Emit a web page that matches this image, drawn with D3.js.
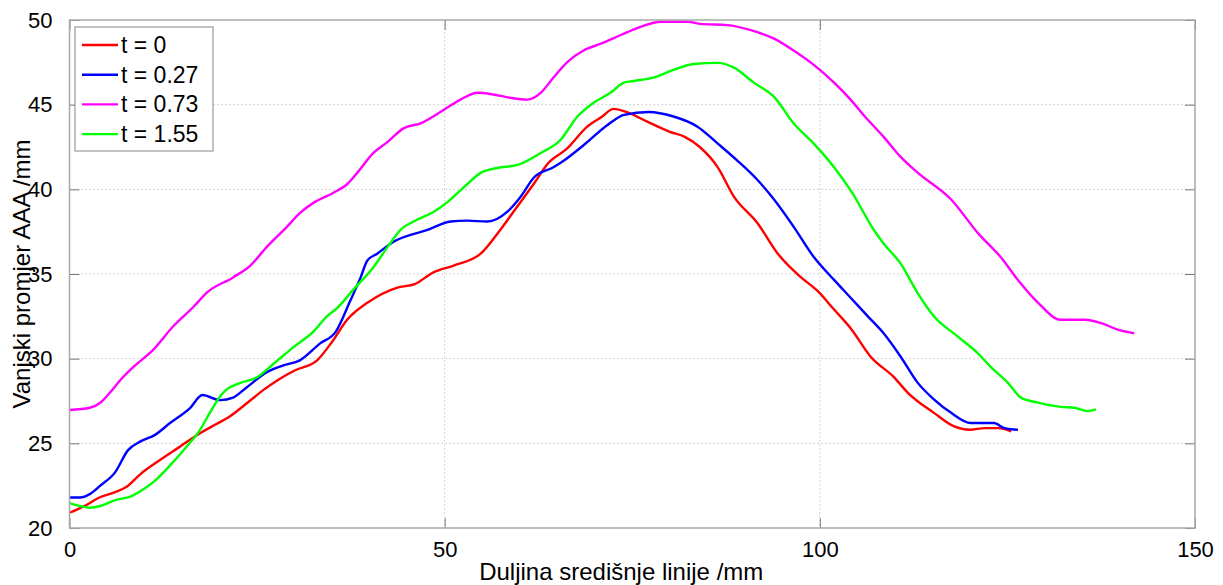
<!DOCTYPE html>
<html>
<head>
<meta charset="utf-8">
<script src="https://cdn.jsdelivr.net/npm/d3@7"></script>
<style>
  body { margin: 0; background: #fff; }
  svg { display: block; font-family: "Liberation Sans", Arial, sans-serif; }
</style>
</head>
<body>
<div id="chart"></div>
<script>
// series: [x (mm), diameter (mm)]
var seriesT0 = [
  [0, 20.9], [2, 21.3], [4, 21.8], [6, 22.1], [7.5, 22.4], [9.5, 23.2], [12, 24.0],
  [14.7, 24.8], [17.4, 25.6], [19, 26.0], [21.4, 26.6], [24, 27.5], [26, 28.2],
  [28, 28.8], [30, 29.3], [33, 29.9], [35, 31.0], [37, 32.3], [39.7, 33.3],
  [43.7, 34.2], [46, 34.4], [48.5, 35.1], [51.2, 35.5], [54.8, 36.2], [57.4, 37.6],
  [59.7, 39.0], [62, 40.4], [63.7, 41.5], [66.3, 42.4], [69, 43.7], [71, 44.3],
  [72.5, 44.75], [74, 44.6], [77, 44.0], [80, 43.4], [82, 43.1], [84, 42.5],
  [86.4, 41.3], [88.5, 39.6], [91.7, 38.0], [94.4, 36.2], [97.5, 34.8], [99.7, 34.0],
  [101.9, 32.9], [104.1, 31.8], [106.8, 30.1], [109.9, 28.9], [111.7, 28.0],
  [115.2, 26.8], [117.9, 26.0], [120, 25.8], [122, 25.9], [123.8, 25.9], [125.5, 25.7]
];
var seriesT027 = [
  [0, 21.8], [1.4, 21.8], [2.7, 22.0], [4.1, 22.5], [6.1, 23.3], [7.8, 24.6],
  [9.4, 25.1], [11.4, 25.5], [13.4, 26.2], [16.1, 27.1], [17.7, 27.85], [20.1, 27.55],
  [21.8, 27.7], [23.6, 28.3], [26.3, 29.2], [28.5, 29.6], [30.7, 29.9], [33.4, 30.9],
  [35.5, 31.6], [37.4, 33.4], [38.8, 34.8], [39.7, 35.8], [41, 36.2], [43.2, 36.9],
  [47.7, 37.6], [50.8, 38.1], [53, 38.15], [55.7, 38.1], [58.4, 38.7], [60.1, 39.55],
  [61.9, 40.7], [64.5, 41.3], [65.9, 41.7], [68.5, 42.6], [71.7, 43.8], [73.9, 44.4],
  [77.2, 44.57], [80.5, 44.3], [83.7, 43.7], [86.4, 42.7], [89, 41.7], [91.7, 40.55],
  [93.9, 39.4], [96.5, 37.8], [99.2, 36.0], [101.9, 34.65], [104.1, 33.6],
  [106.4, 32.5], [108.5, 31.5], [110.8, 30.1], [113, 28.6], [115.2, 27.6],
  [117.5, 26.8], [120.1, 26.2], [123.2, 26.2], [124.6, 25.9], [126.4, 25.8]
];
var seriesT073 = [
  [0, 26.97], [2.7, 27.1], [4.1, 27.4], [5.4, 28.0], [6.7, 28.7], [8.5, 29.5],
  [11.1, 30.5], [13.8, 31.9], [16.5, 33.05], [18.3, 33.9], [21.8, 34.8], [24.1, 35.5],
  [26.3, 36.6], [29, 37.8], [30.7, 38.6], [32.5, 39.2], [35.2, 39.8], [37, 40.3],
  [38.4, 41.0], [40.5, 42.15], [42.4, 42.8], [44.5, 43.6], [46.8, 43.9], [49.9, 44.7],
  [52.1, 45.3], [54.4, 45.7], [56.5, 45.6], [58.8, 45.4], [61, 45.3], [62.8, 45.7],
  [64.5, 46.6], [66.3, 47.5], [68.5, 48.2], [70.8, 48.6], [73.4, 49.1], [76.1, 49.6],
  [78.8, 49.9], [82.4, 49.9], [84.1, 49.77], [87.7, 49.7], [90.8, 49.4], [93.9, 48.9],
  [96.5, 48.2], [99.2, 47.35], [101.9, 46.3], [104.1, 45.3], [106, 44.3],
  [108.5, 43.1], [110.8, 41.9], [113, 41.0], [117.5, 39.4], [121.1, 37.4],
  [124.1, 36.0], [126.4, 34.65], [129.1, 33.3], [132.1, 32.3], [135.3, 32.3],
  [137.5, 32.1], [139.8, 31.7], [141.9, 31.5]
];
var seriesT155 = [
  [0, 21.47], [1.4, 21.3], [2.7, 21.2], [4.1, 21.3], [6.1, 21.65], [8.1, 21.85],
  [10.1, 22.36], [11.4, 22.8], [13.4, 23.7], [15.4, 24.7], [17.4, 25.8], [18.7, 26.8],
  [20.3, 27.9], [21, 28.2], [22.7, 28.56], [25, 28.9], [27.2, 29.7], [29.9, 30.7],
  [32.5, 31.6], [34.3, 32.5], [35.7, 33.0], [37.8, 34.06], [40.5, 35.4], [42.4, 36.6],
  [44.1, 37.6], [46.3, 38.2], [48.5, 38.66], [50.4, 39.26], [52.5, 40.1], [54.8, 40.97],
  [57, 41.26], [59.7, 41.44], [62.8, 42.15], [65.4, 42.9], [67.7, 44.3], [69.8, 45.1],
  [72.1, 45.7], [73.9, 46.3], [75.2, 46.4], [77.8, 46.6], [80.5, 47.05], [83.2, 47.4],
  [86.4, 47.47], [88.5, 47.2], [91.2, 46.3], [93.9, 45.46], [96.5, 43.9], [99.2, 42.7],
  [101.9, 41.3], [104.3, 39.8], [107.2, 37.6], [108.5, 36.8], [110.8, 35.6],
  [113, 33.9], [115.2, 32.5], [118.4, 31.3], [121.1, 30.3], [122.8, 29.5],
  [125.1, 28.56], [126.8, 27.7], [129.1, 27.4], [132.1, 27.15], [133.9, 27.1],
  [135.7, 26.9], [136.8, 27.0]
];

var seriesNames = ["t = 0", "t = 0.27", "t = 0.73", "t = 1.55"];
var seriesColors = ["#ff0000", "#0000ff", "#ff00ff", "#00ff00"];
var xTicks = [0, 50, 100, 150];
var yTicks = [20, 25, 30, 35, 40, 45, 50];

var width = 1223, height = 585;
var margin = { top: 20, right: 28, bottom: 57, left: 69.5 };
var innerW = width - margin.left - margin.right;
var innerH = height - margin.top - margin.bottom;

var svg = d3.select("#chart").append("svg")
  .attr("width", width)
  .attr("height", height);

var g = svg.append("g")
  .attr("transform", "translate(" + margin.left + "," + margin.top + ")");

var x = d3.scaleLinear().domain([0, 150]).range([0, innerW]);
var y = d3.scaleLinear().domain([20, 50]).range([innerH, 0]);

// dotted grid
g.append("g").selectAll("line").data(xTicks.slice(1, -1)).enter().append("line")
  .attr("x1", d => x(d)).attr("x2", d => x(d))
  .attr("y1", 0).attr("y2", innerH)
  .attr("stroke", "#c4c4c4").attr("stroke-dasharray", "1.5,2.5");
g.append("g").selectAll("line").data(yTicks.slice(1, -1)).enter().append("line")
  .attr("y1", d => y(d)).attr("y2", d => y(d))
  .attr("x1", 0).attr("x2", innerW)
  .attr("stroke", "#c4c4c4").attr("stroke-dasharray", "1.5,2.5");

// axes, ticks pointing inward on all four sides
var tickLen = 10;
var xBottom = d3.axisBottom(x).tickValues(xTicks).tickSize(-tickLen).tickPadding(tickLen + 3);
var xTop = d3.axisTop(x).tickValues(xTicks).tickSize(-tickLen).tickFormat("");
var yLeft = d3.axisLeft(y).tickValues(yTicks).tickSize(-tickLen).tickPadding(tickLen + 7);
var yRight = d3.axisRight(y).tickValues(yTicks).tickSize(-tickLen).tickFormat("");

function styleAxis(sel) {
  sel.select(".domain").remove();
  sel.selectAll(".tick line").attr("stroke", "#777");
  sel.selectAll(".tick text").attr("fill", "#000").style("font-size", "22px")
    .style("font-family", "'Liberation Sans', Arial, sans-serif");
}

g.append("g").attr("transform", "translate(0," + innerH + ")").call(xBottom).call(styleAxis);
g.append("g").call(xTop).call(styleAxis);
g.append("g").call(yLeft).call(styleAxis);
g.append("g").attr("transform", "translate(" + innerW + ",0)").call(yRight).call(styleAxis);

// series lines
var allSeries = [seriesT0, seriesT027, seriesT073, seriesT155];
var line = d3.line()
  .x(d => x(d[0]))
  .y(d => y(d[1]))
  .curve(d3.curveMonotoneX);

g.append("g").selectAll("path").data(allSeries).enter().append("path")
  .attr("d", line)
  .attr("fill", "none")
  .attr("stroke", (d, i) => seriesColors[i])
  .attr("stroke-width", 2.4)
  .attr("stroke-linejoin", "round");

// box
g.append("rect")
  .attr("width", innerW).attr("height", innerH)
  .attr("fill", "none").attr("stroke", "#a8a8a8").attr("stroke-width", 1.5);

// legend
var legend = g.append("g").attr("transform", "translate(" + (75 - margin.left) + "," + (27 - margin.top) + ")");
legend.append("rect")
  .attr("width", 138).attr("height", 124)
  .attr("fill", "#fff").attr("stroke", "#999").attr("stroke-width", 1.2);
var items = legend.selectAll("g.item").data(seriesNames).enter().append("g")
  .attr("class", "item")
  .attr("transform", (d, i) => "translate(0," + (18 + i * 29.7) + ")");
items.append("line")
  .attr("x1", 7).attr("x2", 43)
  .attr("stroke", (d, i) => seriesColors[i]).attr("stroke-width", 2.4);
items.append("text")
  .attr("x", 46).attr("dy", "0.35em")
  .style("font-size", "23px")
  .text(d => d);

// axis titles
svg.append("text")
  .attr("x", margin.left + innerW / 2 - 11).attr("y", 580)
  .attr("text-anchor", "middle")
  .style("font-size", "24px")
  .text("Duljina središnje linije /mm");

svg.append("text")
  .attr("transform", "translate(30," + (margin.top + innerH / 2) + ") rotate(-90)")
  .attr("text-anchor", "middle")
  .style("font-size", "24px")
  .text("Vanjski promjer AAA /mm");
</script>
</body>
</html>
